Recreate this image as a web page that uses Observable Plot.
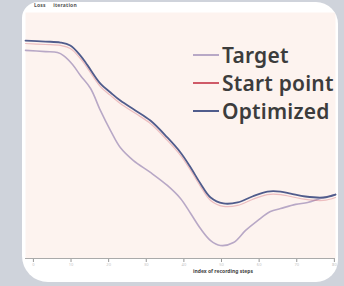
<!DOCTYPE html>
<html><head><meta charset="utf-8">
<script src="https://cdn.jsdelivr.net/npm/d3@7"></script>
<script src="https://cdn.jsdelivr.net/npm/@observablehq/plot@0.6"></script>
<style>
body{margin:0;background:#cfd3db;width:344px;height:286px;overflow:hidden;position:relative;font-family:"Noto Sans",sans-serif}
#card{position:absolute;left:22px;top:2px;width:316px;height:280px;background:#fff;border-radius:16px 22px 22px 26px;overflow:hidden}
#chart{position:absolute;left:0;top:0}
#top{position:absolute;left:12px;top:0px;font-size:5px;color:#555;font-weight:bold;letter-spacing:0.2px}
#xlabel{position:absolute;left:171px;top:266px;font-size:5px;line-height:6px;color:#444;font-weight:bold}
#legend{position:absolute;left:171px;top:39px;font-size:21px;font-weight:600;color:#3c3c3c;line-height:28px;letter-spacing:0.2px}
#legend div{display:flex;align-items:center;white-space:nowrap}
#legend span.l{display:inline-block;width:26px;height:2px;margin-right:3px}
</style></head>
<body>
<div id="card">
  <div id="chart"></div>
  <div id="top">Loss &nbsp;&nbsp;&nbsp;&nbsp;iteration</div>
  <div id="xlabel">index of recording steps</div>
  <div id="legend"></div>
</div>
<script>
const seriesNames = ["Target", "Start point", "Optimized"];
const seriesColors = ["#b8a8c6", "#cf5a68", "#505c8c"];

const xTarget = [-2.1, 3.2, 6.4, 8.0, 10.4, 12.5, 15.2, 17.8, 20.5, 23.1, 26.6, 31.1, 35.6, 39.1, 41.8, 44.4, 47.1, 49.7, 53.2, 56.4, 59.6, 63.0, 65.7, 69.7, 72.9, 76.3, 80.3];
const yTarget = [84.6, 84.1, 83.7, 82.5, 78.9, 74.4, 69.1, 60.2, 52.0, 45.1, 39.8, 35.0, 29.7, 24.4, 18.3, 12.2, 7.3, 5.3, 6.5, 11.4, 15.4, 19.1, 20.3, 22.0, 22.8, 24.4, 26.0];

const xOpt = [-2.1, 3.2, 7.2, 9.8, 12.5, 14.4, 17.8, 20.5, 23.1, 27.1, 31.1, 35.6, 39.1, 41.8, 44.4, 47.1, 50.5, 54.3, 58.2, 62.2, 65.7, 68.4, 72.3, 77.1, 80.3];
const yOpt = [88.6, 88.2, 87.8, 86.6, 82.5, 78.5, 71.1, 67.5, 64.2, 60.2, 56.1, 49.2, 43.1, 37.0, 30.5, 24.8, 22.4, 22.8, 25.2, 27.2, 27.2, 26.4, 25.2, 24.8, 26.0];
const yStart = [87.4, 87.0, 86.6, 85.4, 81.3, 77.3, 69.9, 66.3, 63.0, 59.0, 54.9, 48.0, 41.9, 35.8, 29.3, 23.6, 21.2, 21.6, 24.0, 26.0, 26.0, 25.2, 24.0, 23.6, 24.8];

const xTicks = [0, 10, 20, 30, 40, 50, 60, 70, 80];

const target = xTarget.map((x, i) => ({x, y: yTarget[i]}));
const optimized = xOpt.map((x, i) => ({x, y: yOpt[i]}));
const start = xOpt.map((x, i) => ({x, y: yStart[i]}));

const plot = Plot.plot({
  width: 316, height: 280,
  marginLeft: 3, marginRight: 3, marginTop: 10, marginBottom: 24,
  style: {background: "transparent", fontFamily: "Noto Sans, sans-serif"},
  x: {domain: [-2.1, 80.3]},
  y: {domain: [0, 100], axis: null},
  marks: [
    Plot.frame({fill: "#fdf3ef", stroke: null}),
    Plot.axisX({ticks: xTicks, tickSize: 4, stroke: "#999", fill: "#c4c4c4", fontSize: 4, tickPadding: 1, label: null}),
    Plot.ruleY([0], {stroke: "#aaa", strokeWidth: 1}),
    Plot.line(target, {x: "x", y: "y", stroke: seriesColors[0], strokeWidth: 1.6, curve: "catmull-rom"}),
    Plot.line(start, {x: "x", y: "y", stroke: seriesColors[1], strokeWidth: 1.2, strokeOpacity: 0.35, curve: "catmull-rom"}),
    Plot.line(optimized, {x: "x", y: "y", stroke: seriesColors[2], strokeWidth: 1.8, curve: "catmull-rom"})
  ]
});
document.getElementById("chart").appendChild(plot);

const lg = document.getElementById("legend");
seriesNames.forEach((n, i) => {
  const d = document.createElement("div");
  d.innerHTML = `<span class="l" style="background:${seriesColors[i]}"></span>${n}`;
  lg.appendChild(d);
});
</script>
</body></html>
